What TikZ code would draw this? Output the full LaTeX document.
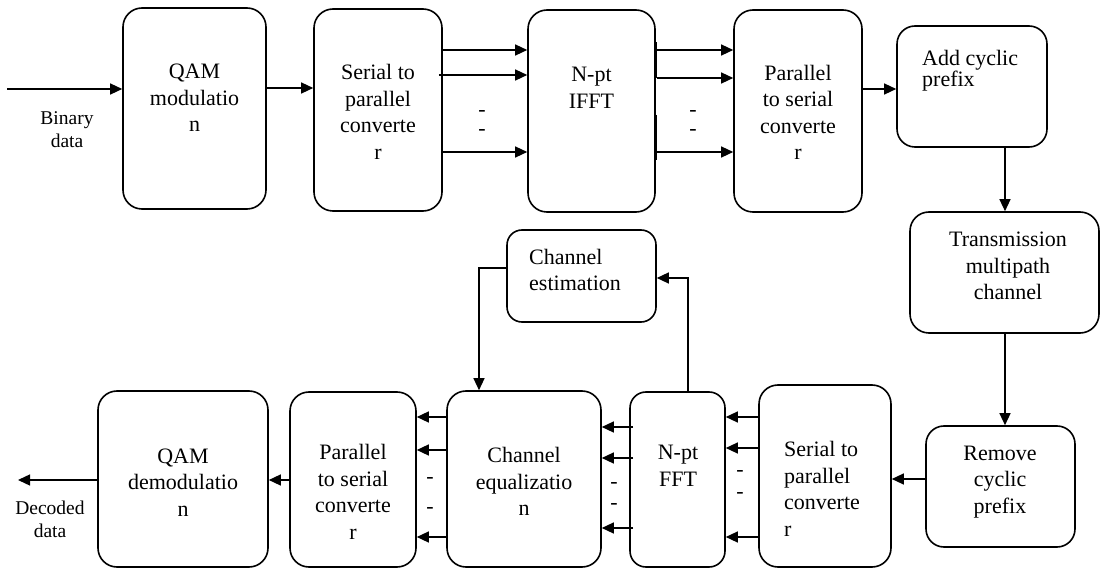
\documentclass[tikz,border=0pt]{standalone}
\usepackage{fontspec}
\setmainfont{Liberation Serif}
\usetikzlibrary{arrows.meta}
\tikzset{
  box/.style={draw, line width=1.6pt, rounded corners=19pt, inner sep=0pt},
  arr/.style={line width=1.3pt, -{Triangle[length=12pt,width=11pt]}},
  ln/.style={line width=1.3pt},
  txt/.style={font=\fontsize{22}{26.5}\selectfont, align=center, inner sep=0pt},
  ltxt/.style={txt, align=left, anchor=west},
  small/.style={font=\fontsize{19.5}{23}\selectfont, align=center, inner sep=0pt},
  hy/.style={font=\fontsize{22}{26.5}\selectfont, inner sep=0pt}
}
\newcommand\obox[6][]{\node[box,#1,minimum width={#4-#3},minimum height={#6-#5}] (#2) at ({(#3+#4)/2},{(#5+#6)/2}) {};}
\begin{document}
\begin{tikzpicture}[x=1pt,y=-1pt]
\useasboundingbox (0,0) rectangle (1101,569);
% boxes
\obox{qam}{123}{266}{8}{209}
\obox{s2p}{314}{442}{9}{211}
\obox{ifft}{528}{655}{10}{212}
\obox{p2s}{734}{862}{10}{212}
\obox[rounded corners=18pt]{acp}{897}{1047}{26}{147}
\obox{tmc}{910}{1099}{212}{333}
\obox[rounded corners=18pt]{rcp}{926}{1075}{426}{547}
\obox{s2pr}{759}{891}{385}{567}
\obox[rounded corners=16pt]{fft}{630}{725}{392}{567}
\obox[rounded corners=15pt]{ce}{507}{656}{230}{322}
\obox{ceq}{447}{601}{391}{567}
\obox{p2sr}{290}{416}{392}{567}
\obox{qamd}{98}{268}{391}{567}
% texts
\node[txt] (tqam) at (194.5,98) {QAM\\modulatio\\n};
\node[txt] (ts2p) at (378,112) {Serial to\\parallel\\converte\\r};
\node[txt] (tifft) at (591.5,88) {N-pt\\IFFT};
\node[txt] (tp2s) at (798,112.5) {Parallel\\to serial\\converte\\r};
\node[ltxt, font=\fontsize{22}{20}\selectfont] (tacp) at (922,71) {Add cyclic\\prefix};
\node[txt] (ttmc) at (1008,266) {Transmission\\multipath\\channel};
\node[txt] (trcp) at (1000,482) {Remove\\cyclic\\prefix};
\node[ltxt] (ts2pr) at (784,489) {Serial to\\parallel\\converte\\r};
\node[txt] (tfft) at (678,466) {N-pt\\FFT};
\node[ltxt] (tce) at (529,270) {Channel\\estimation};
\node[txt] (tceq) at (524,481.5) {Channel\\equalizatio\\n};
\node[txt] (tp2sr) at (353,492) {Parallel\\to serial\\converte\\r};
\node[txt] (tqamd) at (183,482.5) {QAM\\demodulatio\\n};
\node[small] (tbin) at (67,129.5) {Binary\\data};
\node[small] (tdec) at (50,519) {Decoded\\data};
% hyphens
\node[hy] (h1) at (482,113) {-};
\node[hy] (h2) at (482,133) {-};
\node[hy] (h3) at (693,113) {-};
\node[hy] (h4) at (693,133) {-};
\node[hy] (h5) at (740,473) {-};
\node[hy] (h6) at (740,495) {-};
\node[hy] (h7) at (614,485) {-};
\node[hy] (h8) at (614,506) {-};
\node[hy] (h9) at (430,480) {-};
\node[hy] (h10) at (430,510) {-};
% free ends / bends
\coordinate (in) at (7,89);
\coordinate (out) at (18,480);
\coordinate (k1) at (479,268);
\coordinate (k2) at (688,278);
% top row
\draw[arr] (in) -- (qam.west |- in);
\draw[arr] (qam.east |- 0,88) -- (s2p.west |- 0,88);
\draw[arr] (s2p.east |- 0,50) -- (ifft.west |- 0,50);
\draw[arr] ([xshift=-4pt]s2p.east |- 0,75) -- (ifft.west |- 0,75);
\draw[arr] (s2p.east |- 0,152) -- (ifft.west |- 0,152);
\draw[ln] ([xshift=1pt]ifft.east |- 0,42) -- ([xshift=1pt]ifft.east |- 0,78);
\draw[ln] ([xshift=1pt]ifft.east |- 0,115) -- ([xshift=1pt]ifft.east |- 0,160);
\draw[arr] ([xshift=1pt]ifft.east |- 0,50) -- (p2s.west |- 0,50);
\draw[arr] ([xshift=1pt]ifft.east |- 0,78) -- (p2s.west |- 0,78);
\draw[arr] ([xshift=1pt]ifft.east |- 0,152) -- (p2s.west |- 0,152);
\draw[arr] (p2s.east |- 0,89) -- (acp.west |- 0,89);
\draw[arr] (acp.south -| 1005,0) -- (tmc.north -| 1005,0);
\draw[arr] (tmc.south -| 1005,0) -- (rcp.north -| 1005,0);
% bottom row
\draw[arr] (rcp.west |- 0,479) -- (s2pr.east |- 0,479);
\draw[arr] (s2pr.west |- 0,417) -- (fft.east |- 0,417);
\draw[arr] (s2pr.west |- 0,448) -- (fft.east |- 0,448);
\draw[arr] (s2pr.west |- 0,537) -- (fft.east |- 0,537);
\draw[arr] (k2 |- fft.north) -- (k2) -- (ce.east |- k2);
\draw[arr] (ce.west |- k1) -- (k1) -- (k1 |- ceq.north);
\draw[arr] ([xshift=4pt]fft.west |- 0,427) -- (ceq.east |- 0,427);
\draw[arr] ([xshift=4pt]fft.west |- 0,458) -- (ceq.east |- 0,458);
\draw[arr] ([xshift=4pt]fft.west |- 0,528) -- (ceq.east |- 0,528);
\draw[arr] (ceq.west |- 0,417) -- (p2sr.east |- 0,417);
\draw[arr] (ceq.west |- 0,450) -- (p2sr.east |- 0,450);
\draw[arr] (ceq.west |- 0,537) -- (p2sr.east |- 0,537);
\draw[arr] (p2sr.west |- 0,480) -- (qamd.east |- 0,480);
\draw[arr] (qamd.west |- out) -- (out);
\end{tikzpicture}
\end{document}
